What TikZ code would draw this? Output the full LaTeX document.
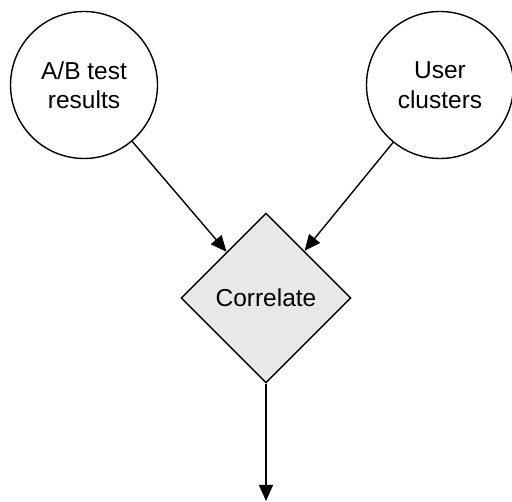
\documentclass[tikz,border=0pt]{standalone}
\usepackage{fontspec}
\setmainfont{Liberation Sans}
\usepackage{tikz}
\usetikzlibrary{shapes.geometric, arrows.meta, positioning}
\definecolor{diamondgray}{HTML}{E8E8E8}

\begin{document}
\begin{tikzpicture}[x=1pt, y=-1pt,
    source/.style={circle, draw=black, line width=1.4pt, minimum size=147pt, inner sep=0pt,
      align=center, font=\fontsize{24.5}{29.5}\selectfont},
    decision/.style={diamond, draw=black, fill=diamondgray, line width=1.4pt,
      minimum width=170pt, minimum height=170pt, inner sep=0pt,
      font=\fontsize{24.5}{29.5}\selectfont},
    flow/.style={-{Triangle[length=16pt, width=14pt]}, line width=1.4pt}]

  % Canvas
  \useasboundingbox (0,0) rectangle (512,502);

  % Input circles
  \node[source] (abtest) at (84,85) {A/B test\\results};
  \node[source] (clusters) at (440,85) {User\\clusters};

  % Decision diamond
  \node[decision] (correlate) at (266,298) {Correlate};

  % Free end of the output arrow
  \coordinate (output) at (266,501);

  % Connectors
  \draw[flow] (abtest) -- (correlate);
  \draw[flow] (clusters) -- (correlate);
  \draw[flow] (correlate) -- (output);
\end{tikzpicture}
\end{document}
